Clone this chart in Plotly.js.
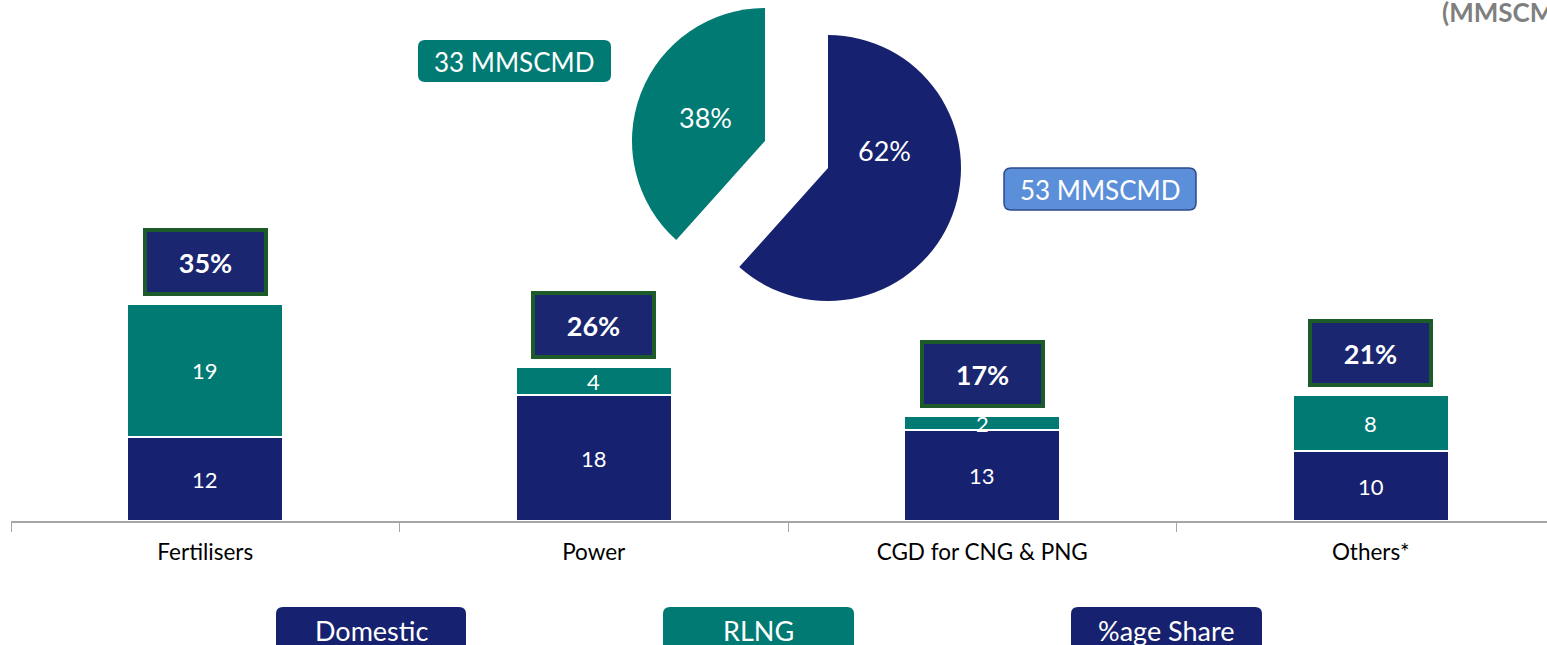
<!DOCTYPE html>
<html><head><meta charset="utf-8">
<script src="https://cdn.plot.ly/plotly-3.0.1.min.js"></script>
<style>html,body{margin:0;padding:0;background:#fff;overflow:hidden}</style>
</head><body><div id="chart" style="width:1547px;height:645px"></div>
<script>
// ---- data ----
const categories = ['Fertilisers', 'Power', 'CGD for CNG & PNG', 'Others*'];
const domestic = [12, 18, 13, 10];
const rlng = [19, 4, 2, 8];
const shareLabels = ['35%', '26%', '17%', '21%'];
const pieLabels = ['Domestic', 'RLNG'];
const pieValues = [53, 33];
const legendLabels = ['Domestic', 'RLNG', '%age Share'];
const unitLabel = '(MMSCMD)';

// ---- styles ----
const NAVY = '#16216F', TEAL = '#007A73', BOXNAVY = '#1B2670', BOXGREEN = '#1E5B2B';
const LIGHTBLUE = '#5B8FD9';
const FONT = 'Lato, "Open Sans", sans-serif';
const W = 1547, H = 645, mL = 11, mR = 0, mT = 0, mB = 124;
const pw = W - mL - mR, ph = H - mT - mB;
const X = p => (p - mL) / pw;
const Y = p => (ph + mT - p) / ph;
const pxPerUnit = 7.0;

function rr(x0, y0, x1, y1, r) {
  return `M${X(x0 + r)},${Y(y0)} L${X(x1 - r)},${Y(y0)} Q${X(x1)},${Y(y0)} ${X(x1)},${Y(y0 + r)} ` +
         `L${X(x1)},${Y(y1 - r)} Q${X(x1)},${Y(y1)} ${X(x1 - r)},${Y(y1)} L${X(x0 + r)},${Y(y1)} ` +
         `Q${X(x0)},${Y(y1)} ${X(x0)},${Y(y1 - r)} L${X(x0)},${Y(y0 + r)} Q${X(x0)},${Y(y0)} ${X(x0 + r)},${Y(y0)} Z`;
}

const total = pieValues.reduce((a, b) => a + b, 0);
const pct = v => Math.round(v / total * 100) + '%';

const traces = [
  { type: 'bar', name: legendLabels[0], x: categories, y: domestic,
    marker: { color: NAVY, line: { color: '#ffffff', width: 1.2 } }, hoverinfo: 'x+y+name' },
  { type: 'bar', name: legendLabels[1], x: categories, y: rlng,
    marker: { color: TEAL, line: { color: '#ffffff', width: 1.2 } }, hoverinfo: 'x+y+name' },
  // exploded pie drawn as two pies (each showing one slice), so each slice keeps its own centre
  { type: 'pie', labels: pieLabels, values: pieValues, sort: false, direction: 'clockwise', rotation: 0,
    marker: { colors: [NAVY, 'rgba(0,0,0,0)'], line: { width: 0 } }, textinfo: 'none', hoverinfo: 'skip',
    domain: { x: [X(695), X(961)], y: [Y(301), Y(35)] } },
  { type: 'pie', labels: pieLabels, values: pieValues, sort: false, direction: 'clockwise', rotation: 0,
    marker: { colors: ['rgba(0,0,0,0)', TEAL], line: { width: 0 } }, textinfo: 'none', hoverinfo: 'skip',
    domain: { x: [X(632), X(898)], y: [Y(274), Y(8)] } }
];

const annotations = [];
function paperText(px, py, text, size, color, extra) {
  return Object.assign({ xref: 'paper', yref: 'paper', x: X(px), y: Y(py), xanchor: 'center', yanchor: 'middle',
    text: text, showarrow: false, font: { family: FONT, size: size, color: color } }, extra || {});
}
categories.forEach((c, i) => {
  annotations.push({ x: c, y: domestic[i] / 2, text: String(domestic[i]), showarrow: false,
    xanchor: 'center', yanchor: 'middle', font: { family: FONT, size: 22, color: '#ffffff' } });
  annotations.push({ x: c, y: domestic[i] + rlng[i] / 2, text: String(rlng[i]), showarrow: false,
    xanchor: 'center', yanchor: 'middle', font: { family: FONT, size: 22, color: '#ffffff' } });
  annotations.push({ x: c, y: domestic[i] + rlng[i], xanchor: 'center', yanchor: 'bottom', yshift: 8,
    text: '<b>' + shareLabels[i] + '</b>', showarrow: false,
    font: { family: FONT, size: 27, color: '#ffffff' },
    bgcolor: BOXNAVY, bordercolor: BOXGREEN, borderwidth: 4, borderpad: 1, width: 115, height: 58 });
});
// pie percentages
annotations.push(paperText(884, 150, pct(pieValues[0]), 27, '#ffffff'));
annotations.push(paperText(705, 117, pct(pieValues[1]), 27, '#ffffff'));
// MMSCMD callouts
annotations.push(paperText(514, 62, pieValues[1] + ' MMSCMD', 26, '#ffffff'));
annotations.push(paperText(1100, 190, pieValues[0] + ' MMSCMD', 26, '#ffffff'));
// unit label (cut at right edge as in the original)
annotations.push(paperText(1440, 12, '<b>' + unitLabel + '</b>', 26, '#7F7F7F', { xanchor: 'left' }));
// legend boxes text
const legendBoxes = [[276, 466, NAVY], [663, 854, TEAL], [1071, 1262, NAVY]];
legendBoxes.forEach((b, i) => {
  annotations.push(paperText((b[0] + b[1]) / 2, 630, legendLabels[i], 27, '#ffffff'));
});

const shapes = [
  { type: 'path', xref: 'paper', yref: 'paper', path: rr(418, 40, 611, 82, 7), fillcolor: TEAL, line: { width: 0 } },
  { type: 'path', xref: 'paper', yref: 'paper', path: rr(1004, 168, 1196, 210, 7), fillcolor: LIGHTBLUE,
    line: { color: '#2E4A8C', width: 1.5 } }
];
legendBoxes.forEach(b => {
  shapes.push({ type: 'path', xref: 'paper', yref: 'paper', path: rr(b[0], 607, b[1], 665, 7),
    fillcolor: b[2], line: { width: 0 } });
});

const layout = {
  width: W, height: H,
  margin: { l: mL, r: mR, t: mT, b: mB, pad: 0 },
  paper_bgcolor: '#ffffff', plot_bgcolor: '#ffffff',
  barmode: 'stack', bargap: 0.6, showlegend: false,
  font: { family: FONT },
  xaxis: { type: 'category', range: [-0.5, 3.5 - 18 / 388.5], tickson: 'boundaries', ticks: 'outside',
    ticklen: 9, tickcolor: '#A6A6A6', tickwidth: 1, showline: true, linecolor: '#A6A6A6', linewidth: 1.5,
    showgrid: false, zeroline: false, tickfont: { family: FONT, size: 22.5, color: '#000000' },
    ticklabelstandoff: 10, fixedrange: true },
  yaxis: { visible: false, range: [0, ph / pxPerUnit], showgrid: false, zeroline: false, fixedrange: true },
  annotations: annotations,
  shapes: shapes
};

Plotly.newPlot('chart', traces, layout, { displayModeBar: false, staticPlot: true });
</script>
</body></html>
